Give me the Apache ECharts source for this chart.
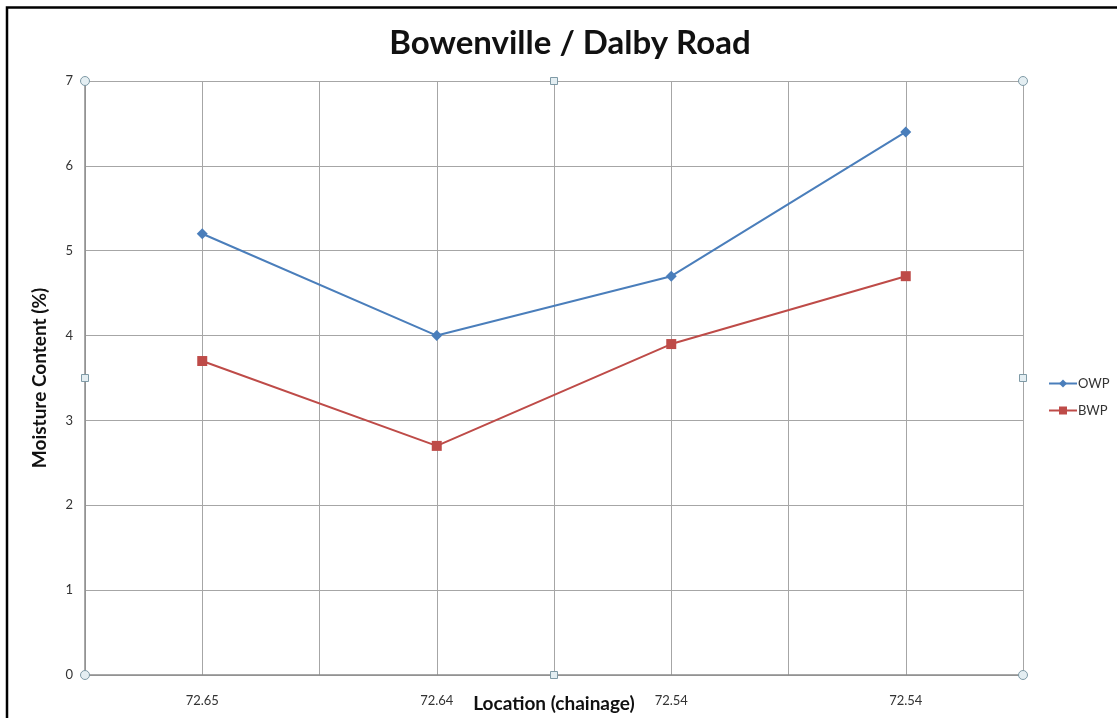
<!DOCTYPE html>
<html>
<head>
<meta charset="utf-8">
<title>Bowenville / Dalby Road</title>
<script src="https://cdn.jsdelivr.net/npm/echarts@6/dist/echarts.min.js"></script>
<style>
  html, body { margin: 0; padding: 0; background: #ffffff; }
  #chart { width: 1119px; height: 718px; }
</style>
</head>
<body>
<div id="chart"></div>
<script>
// Moisture content at each chainage location
const categories = ['72.65', '72.64', '72.54', '72.54'];
const owpValues = [5.2, 4.0, 4.7, 6.4];
const bwpValues = [3.7, 2.7, 3.9, 4.7];
const yTicks = [0, 1, 2, 3, 4, 5, 6, 7];

const chart = echarts.init(document.getElementById('chart'));

const plot = { left: 85, top: 81, right: 1023, bottom: 675 };
const font = 'Lato, "Open Sans", sans-serif';

// Selection handles on the plot area corners and edge midpoints
function handles() {
  const midX = (plot.left + plot.right) / 2;
  const midY = (plot.top + plot.bottom) / 2;
  const circles = [
    [plot.left, plot.top], [plot.right, plot.top],
    [plot.left, plot.bottom], [plot.right, plot.bottom]
  ].map(p => ({
    type: 'circle', z: 100,
    shape: { cx: p[0], cy: p[1], r: 4.5 },
    style: { fill: '#e4eef2', stroke: '#7f9aa6', lineWidth: 1 }
  }));
  const squares = [
    [midX, plot.top], [midX, plot.bottom],
    [plot.left, midY], [plot.right, midY]
  ].map(p => ({
    type: 'rect', z: 100,
    shape: { x: p[0] - 3.5, y: p[1] - 3.5, width: 7, height: 7 },
    style: { fill: '#e4eef2', stroke: '#7f9aa6', lineWidth: 1 }
  }));
  return circles.concat(squares);
}

const option = {
  backgroundColor: '#ffffff',
  animation: false,
  title: {
    text: 'Bowenville / Dalby Road',
    left: 565, textAlign: 'center', top: 22,
    textStyle: { fontFamily: font, fontSize: 33, fontWeight: 'bold', color: '#111111' }
  },
  legend: {
    orient: 'vertical',
    left: 1043, top: 372,
    itemWidth: 28, itemHeight: 10, itemGap: 14,
    textStyle: { fontFamily: font, fontSize: 13, color: '#333333', padding: [0, 0, 0, -4] },
    data: ['OWP', 'BWP']
  },
  grid: {
    left: plot.left, top: plot.top,
    right: 1119 - plot.right, bottom: 718 - plot.bottom,
    outerBoundsMode: 'none', containLabel: false
  },
  xAxis: [
    {
      type: 'category',
      data: categories,
      boundaryGap: true,
      axisLine: { show: true, lineStyle: { color: '#8c8c8c', width: 1.5 } },
      axisTick: { show: false },
      axisLabel: { fontFamily: font, fontSize: 13, color: '#333333', margin: 19 },
      splitLine: { show: true, lineStyle: { color: '#a6a6a6', width: 1 } },
      name: 'Location (chainage)',
      nameLocation: 'middle',
      nameGap: 19,
      nameMoveOverlap: false,
      nameTextStyle: { fontFamily: font, fontSize: 19, fontWeight: 'bold', color: '#111111' }
    },
    {
      // finer vertical gridlines through each category centre
      type: 'category',
      data: ['', '', '', '', '', '', '', ''],
      boundaryGap: true,
      position: 'bottom',
      axisLine: { show: false },
      axisTick: { show: false },
      axisLabel: { show: false },
      splitLine: { show: true, lineStyle: { color: '#a6a6a6', width: 1 } }
    }
  ],
  yAxis: {
    type: 'value',
    min: yTicks[0], max: yTicks[yTicks.length - 1], interval: 1,
    axisLine: { show: true, lineStyle: { color: '#8c8c8c', width: 1.5 } },
    axisTick: { show: false },
    axisLabel: { fontFamily: font, fontSize: 13, color: '#333333', margin: 12 },
    splitLine: { show: true, lineStyle: { color: '#a6a6a6', width: 1 } },
    name: 'Moisture Content (%)',
    nameLocation: 'middle',
    nameGap: 36,
    nameMoveOverlap: false,
    nameTextStyle: { fontFamily: font, fontSize: 19, fontWeight: 'bold', color: '#111111' }
  },
  series: [
    {
      name: 'OWP', type: 'line', data: owpValues,
      symbol: 'diamond', symbolSize: 11,
      lineStyle: { color: '#4a7ebb', width: 2 },
      itemStyle: { color: '#4a7ebb' },
      z: 3
    },
    {
      name: 'BWP', type: 'line', data: bwpValues,
      symbol: 'rect', symbolSize: 10,
      lineStyle: { color: '#be4b48', width: 2 },
      itemStyle: { color: '#be4b48' },
      z: 3
    }
  ],
  graphic: [
    {
      type: 'polyline', z: 100,
      shape: { points: [[7, 730], [7, 7.5], [1117, 7.5]] },
      style: { stroke: '#000000', lineWidth: 2.5, fill: null }
    }
  ].concat(handles())
};

chart.setOption(option);
</script>
</body>
</html>
